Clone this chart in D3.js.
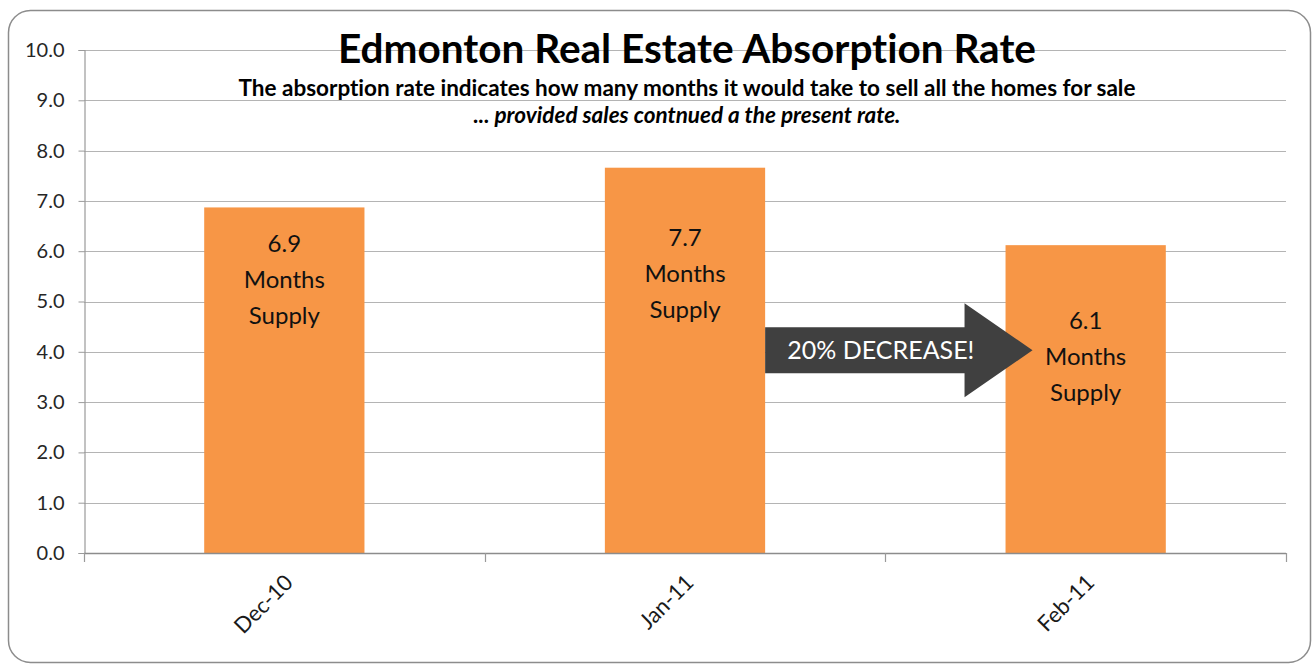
<!DOCTYPE html>
<html>
<head>
<meta charset="utf-8">
<script src="https://cdn.jsdelivr.net/npm/d3@7"></script>
<style>
  body { margin: 0; background: #fff; }
  svg text { font-family: Lato, "Open Sans", sans-serif; font-variant-ligatures: none; }
</style>
</head>
<body>
<div id="chart"></div>
<script>
// Data
const months = ["Dec-10", "Jan-11", "Feb-11"];
const supply = [6.87, 7.66, 6.12];
const barLabels = ["6.9", "7.7", "6.1"];
// where the first line of each bar label sits (in months)
const labelAt = [6.14, 6.26, 4.62];
const yTicks = [0, 1, 2, 3, 4, 5, 6, 7, 8, 9, 10];

var width = 1312,
    height = 665,
    plotLeft = 84,
    plotRight = 1286,
    plotTop = 50,
    plotBottom = 553;

var svg = d3.select("#chart")
    .append("svg")
    .attr("width", width)
    .attr("height", height);

// Outer frame
svg.append("rect")
    .attr("x", 8.5)
    .attr("y", 10.5)
    .attr("width", 1302)
    .attr("height", 652)
    .attr("rx", 22)
    .attr("fill", "#fff")
    .attr("stroke", "#8c8c8c")
    .attr("stroke-width", 1.5);

var x = d3.scaleBand()
    .domain(months)
    .range([plotLeft, plotRight])
    .paddingInner(0.6)
    .paddingOuter(0.3);

var y = d3.scaleLinear()
    .domain([0, 10])
    .range([plotBottom, plotTop]);

// Gridlines
svg.append("g")
    .selectAll("line")
    .data(yTicks.slice(1))
    .enter()
    .append("line")
    .attr("x1", plotLeft)
    .attr("x2", plotRight)
    .attr("y1", d => Math.round(y(d)) + 0.5)
    .attr("y2", d => Math.round(y(d)) + 0.5)
    .attr("stroke", "#b4b4b4")
    .attr("stroke-width", 1.2);

// Bars
svg.append("g")
    .selectAll("rect")
    .data(supply)
    .enter()
    .append("rect")
    .attr("x", (d, i) => x(months[i]))
    .attr("y", d => y(d))
    .attr("width", x.bandwidth())
    .attr("height", d => y(0) - y(d))
    .attr("fill", "#f79646");

// Y axis
var yAxis = svg.append("g")
    .attr("transform", "translate(" + (plotLeft + 0.5) + ",0)")
    .call(d3.axisLeft(y).tickValues(yTicks).tickFormat(d3.format(".1f")).tickSize(6).tickPadding(14));
yAxis.select(".domain").attr("stroke", "#9a9a9a").attr("stroke-width", 1.2);
yAxis.selectAll(".tick line").attr("stroke", "#9a9a9a");
yAxis.selectAll("text")
    .style("font-size", "20px")
    .attr("fill", "#262626");

// X axis
var step = x.step();
var catEdges = [0, 1, 2, 3].map(i => plotLeft + i * step);
svg.append("line")
    .attr("x1", plotLeft)
    .attr("x2", plotRight)
    .attr("y1", y(0) + 0.5)
    .attr("y2", y(0) + 0.5)
    .attr("stroke", "#8c8c8c")
    .attr("stroke-width", 1.3);
svg.append("g")
    .selectAll("line")
    .data(catEdges)
    .enter()
    .append("line")
    .attr("x1", d => Math.round(d) + 0.5)
    .attr("x2", d => Math.round(d) + 0.5)
    .attr("y1", y(0))
    .attr("y2", y(0) + 9)
    .attr("stroke", "#9a9a9a")
    .attr("stroke-width", 1.2);

svg.append("g")
    .selectAll("text")
    .data(months)
    .enter()
    .append("text")
    .attr("transform", d => "translate(" + (x(d) + x.bandwidth() / 2 + 10) + "," + (y(0) + 31) + ") rotate(-45)")
    .attr("text-anchor", "end")
    .style("font-size", "22px")
    .attr("fill", "#1a1a1a")
    .text(d => d);

// Labels inside the bars
for (let i = 0; i < months.length; i++) {
    let cx = x(months[i]) + x.bandwidth() / 2;
    let t = svg.append("text")
        .attr("x", cx)
        .attr("y", y(labelAt[i]) + 8)
        .attr("text-anchor", "middle")
        .style("font-size", "24px")
        .attr("fill", "#111");
    [barLabels[i], "Months", "Supply"].forEach(function(line, j) {
        t.append("tspan")
            .attr("x", cx)
            .attr("dy", j === 0 ? 0 : 36)
            .text(line);
    });
}

// Decrease arrow from Jan bar to Feb bar
var ax0 = x(months[1]) + x.bandwidth(),
    ax1 = x(months[2]) + 27,
    neck = ax1 - 68,
    ay = y(4.03),
    bodyH = 23,
    headH = 47;
svg.append("path")
    .attr("d", "M" + ax0 + "," + (ay - bodyH) +
        "L" + neck + "," + (ay - bodyH) +
        "L" + neck + "," + (ay - headH) +
        "L" + ax1 + "," + ay +
        "L" + neck + "," + (ay + headH) +
        "L" + neck + "," + (ay + bodyH) +
        "L" + ax0 + "," + (ay + bodyH) + "Z")
    .attr("fill", "#404040");
svg.append("text")
    .attr("x", (ax0 + neck) / 2 + 16)
    .attr("y", ay + 9)
    .attr("text-anchor", "middle")
    .style("font-size", "25px")
    .attr("fill", "#fff")
    .text("20% DECREASE!");

// Titles
svg.append("text")
    .attr("x", 687)
    .attr("y", 63)
    .attr("text-anchor", "middle")
    .style("font-size", "40.5px")
    .style("font-weight", "bold")
    .attr("fill", "#000")
    .text("Edmonton Real Estate Absorption Rate");
svg.append("text")
    .attr("x", 687)
    .attr("y", 96)
    .attr("text-anchor", "middle")
    .style("font-size", "22.5px")
    .style("font-weight", "bold")
    .attr("fill", "#000")
    .text("The absorption rate indicates how many months it would take to sell all the homes for sale");
svg.append("text")
    .attr("x", 687)
    .attr("y", 123)
    .attr("text-anchor", "middle")
    .style("font-size", "22.5px")
    .style("font-weight", "bold")
    .style("font-style", "italic")
    .attr("fill", "#000")
    .text("... provided sales contnued a the present rate.");
</script>
</body>
</html>
